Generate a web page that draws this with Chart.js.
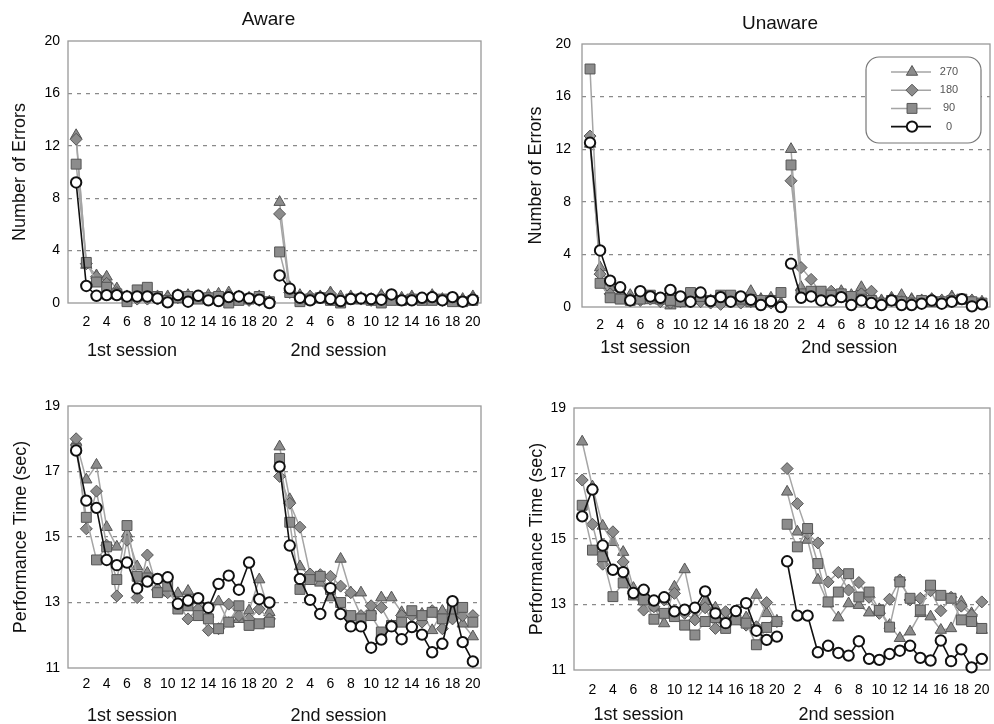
<!DOCTYPE html>
<html>
<head>
<meta charset="utf-8">
<script src="https://cdn.jsdelivr.net/npm/chart.js@4.4.0/dist/chart.umd.min.js"></script>
<style>
  body { margin: 0; background: #fff; width: 994px; height: 724px; position: relative; overflow: hidden; }
  canvas { position: absolute; }
</style>
</head>
<body>
<canvas id="aware-errors" width="497" height="362" style="left:0;top:0"></canvas>
<canvas id="unaware-errors" width="497" height="362" style="left:497px;top:0"></canvas>
<canvas id="aware-time" width="497" height="362" style="left:0;top:362px"></canvas>
<canvas id="unaware-time" width="497" height="362" style="left:497px;top:362px"></canvas>
<script>
// trial positions: 20 trials of the 1st session, then 20 of the 2nd
const trials = Array.from({ length: 40 }, (_, i) => i + 1);
const sessionNames = ['1st session', '2nd session'];
const angles = ['0', '90', '180', '270'];

// Number of errors, aware group (1st session then 2nd session)
const awareErrors270 = [12.8, 2.9, 2.1, 2.0, 1.1, 0.5, 0.4, 0.6, 0.5, 0.5, 0.6, 0.6, 0.5, 0.6, 0.7, 0.8, 0.5, 0.4, 0.5, 0.1,
                        7.7, 1.2, 0.6, 0.5, 0.5, 0.8, 0.5, 0.5, 0.4, 0.3, 0.6, 0.5, 0.4, 0.5, 0.3, 0.6, 0.3, 0.3, 0.3, 0.5];
const awareErrors180 = [12.5, 3.0, 2.0, 1.5, 0.8, 0.5, 0.3, 0.3, 0.3, 0.4, 0.4, 0.3, 0.4, 0.3, 0.4, 0.6, 0.3, 0.2, 0.2, 0.1,
                        6.8, 0.8, 0.4, 0.5, 0.4, 0.7, 0.3, 0.4, 0.3, 0.2, 0.5, 0.3, 0.3, 0.4, 0.3, 0.5, 0.2, 0.2, 0.2, 0.4];
const awareErrors90 = [10.6, 3.1, 1.6, 1.2, 0.7, 0.1, 1.0, 1.2, 0.5, 0.2, 0.4, 0.5, 0.3, 0.4, 0.5, 0.0, 0.2, 0.3, 0.5, 0.1,
                       3.9, 0.8, 0.1, 0.3, 0.4, 0.2, 0.0, 0.3, 0.3, 0.2, 0.0, 0.2, 0.2, 0.3, 0.2, 0.2, 0.3, 0.1, 0.1, 0.2];
const awareErrors0 = [9.2, 1.3, 0.55, 0.6, 0.6, 0.5, 0.5, 0.5, 0.35, 0.05, 0.6, 0.1, 0.55, 0.2, 0.15, 0.45, 0.5, 0.35, 0.25, 0.0,
                      2.1, 1.1, 0.4, 0.2, 0.4, 0.3, 0.15, 0.3, 0.35, 0.3, 0.25, 0.65, 0.2, 0.2, 0.4, 0.45, 0.2, 0.45, 0.1, 0.25];

// Number of errors, unaware group
const unawareErrors270 = [12.4, 3.0, 1.5, 1.0, 0.9, 0.7, 0.5, 0.6, 0.1, 0.3, 0.6, 0.5, 0.5, 0.8, 0.6, 0.4, 1.2, 0.6, 0.7, 0.3,
                          12.0, 1.5, 1.0, 0.8, 1.0, 1.2, 0.9, 1.5, 0.8, 0.5, 0.7, 0.9, 0.6, 0.5, 0.6, 0.5, 0.8, 0.5, 0.5, 0.4];
const unawareErrors180 = [13.0, 2.5, 1.0, 0.8, 0.6, 0.5, 0.6, 0.4, 0.3, 0.4, 0.5, 0.4, 0.3, 0.2, 0.5, 0.3, 0.4, 0.5, 0.3, 0.2,
                          9.6, 3.0, 2.1, 1.0, 1.2, 0.9, 0.6, 1.0, 1.2, 0.4, 0.6, 0.4, 0.5, 0.5, 0.6, 0.5, 0.7, 0.6, 0.5, 0.3];
const unawareErrors90 = [18.1, 1.8, 0.7, 0.6, 0.5, 0.6, 0.9, 0.6, 0.5, 0.4, 1.1, 0.8, 0.5, 0.9, 0.9, 0.6, 0.4, 0.5, 0.5, 1.1,
                         10.8, 1.0, 1.2, 1.2, 0.9, 1.0, 0.8, 0.6, 0.5, 0.3, 0.5, 0.4, 0.3, 0.5, 0.4, 0.4, 0.5, 0.6, 0.4, 0.3];
const unawareErrors0 = [12.5, 4.3, 2.0, 1.5, 0.5, 1.2, 0.8, 0.7, 1.3, 0.8, 0.4, 1.1, 0.45, 0.75, 0.4, 0.8, 0.55, 0.15, 0.45, 0.0,
                        3.3, 0.7, 0.8, 0.5, 0.5, 0.75, 0.15, 0.5, 0.3, 0.15, 0.5, 0.15, 0.15, 0.25, 0.5, 0.25, 0.4, 0.6, 0.05, 0.2];

// Performance time (sec), aware group
const awareTime270 = [17.9, 16.75, 17.2, 15.3, 14.7, 15.1, 14.1, 13.9, 13.45, 13.3, 13.28, 13.35, 13.06, 12.65, 13.03, 12.37, 12.49, 12.75, 13.7, 12.7,
                      17.76, 16.15, 14.1, 13.8, 13.6, 13.15, 14.33, 13.3, 13.3, 12.75, 13.15, 13.15, 12.7, 12.65, 12.65, 12.15, 12.74, 12.85, 12.35, 11.96];
const awareTime180 = [18.0, 15.25, 16.4, 14.75, 13.2, 14.9, 13.15, 14.45, 13.4, 13.3, 13.0, 12.5, 12.8, 12.15, 12.2, 12.95, 12.6, 12.5, 12.8, 12.5,
                      16.85, 16.03, 15.3, 13.87, 13.85, 13.8, 13.5, 13.3, 12.6, 12.9, 12.85, 12.3, 12.6, 12.6, 12.4, 12.75, 12.2, 12.5, 12.6, 12.6];
const awareTime90 = [17.7, 15.6, 14.3, 14.7, 13.7, 15.35, 13.8, 13.75, 13.3, 13.5, 12.8, 12.9, 12.6, 12.5, 12.2, 12.4, 12.9, 12.3, 12.35, 12.4,
                     17.4, 15.45, 13.4, 13.7, 13.8, 13.4, 13.0, 12.6, 12.5, 12.6, 12.1, 12.3, 12.4, 12.75, 12.6, 12.7, 12.5, 12.8, 12.85, 12.4];
const awareTime0 = [17.64, 16.11, 15.89, 14.3, 14.14, 14.22, 13.43, 13.64, 13.72, 13.77, 12.96, 13.06, 13.13, 12.84, 13.57, 13.82, 13.39, 14.22, 13.1, 13.0,
                    17.15, 14.74, 13.72, 13.08, 12.65, 13.44, 12.65, 12.27, 12.27, 11.62, 11.87, 12.27, 11.88, 12.25, 12.02, 11.48, 11.74, 13.04, 11.79, 11.2];

// Performance time (sec), unaware group
const unawareTime270 = [17.97, 16.6, 15.4, 14.9, 14.6, 13.5, 13.1, 12.9, 12.42, 13.54, 14.07, 12.6, 13.1, 12.9, 12.6, 12.6, 12.6, 13.29, 12.73, 12.5,
                        16.44, 15.22, 14.97, 13.75, 13.03, 12.6, 13.03, 12.98, 12.75, 12.85, 12.37, 11.97, 12.17, 12.73, 12.63, 12.22, 12.27, 13.08, 12.73, 12.22];
const unawareTime180 = [16.8, 15.45, 14.23, 15.22, 14.3, 13.34, 12.83, 12.93, 13.14, 13.34, 12.73, 12.53, 12.9, 12.27, 12.78, 12.58, 12.37, 12.32, 13.06, 12.48,
                        17.15, 16.08, 15.17, 14.88, 13.69, 13.98, 13.44, 13.67, 13.22, 12.73, 13.16, 13.75, 13.14, 13.19, 13.42, 12.81, 13.22, 12.95, 12.68, 13.08];
const unawareTime90 = [16.03, 14.66, 14.46, 13.24, 13.66, 13.29, 13.14, 12.55, 12.73, 12.63, 12.37, 12.07, 12.48, 12.6, 12.27, 12.53, 12.43, 11.77, 12.3, 12.48,
                       15.45, 14.76, 15.32, 14.25, 13.08, 13.38, 13.94, 13.23, 13.38, 12.82, 12.31, 13.69, 13.19, 12.83, 13.59, 13.28, 13.19, 12.53, 12.48, 12.27];
const unawareTime0 = [15.69, 16.51, 14.8, 14.06, 13.99, 13.35, 13.45, 13.12, 13.22, 12.79, 12.84, 12.9, 13.4, 12.73, 12.43, 12.8, 13.04, 12.2, 11.92, 12.02,
                      14.32, 12.66, 12.66, 11.54, 11.74, 11.52, 11.44, 11.88, 11.34, 11.31, 11.49, 11.59, 11.74, 11.37, 11.29, 11.9, 11.27, 11.63, 11.08, 11.34];

const FONT = "'Liberation Sans', Arial, Helvetica, sans-serif";
Chart.defaults.font.family = FONT;
Chart.defaults.color = '#000';

// marker / line look of each rotation angle
const styles = {
  '270': { pointStyle: 'triangle', radius: 6.5, fill: '#8c8c8c', border: '#555', line: '#a5a5a5', lineWidth: 1.5, pointBorder: 1 },
  '180': { pointStyle: 'rectRot', radius: 6, fill: '#8c8c8c', border: '#555', line: '#a5a5a5', lineWidth: 1.5, pointBorder: 1 },
  '90':  { pointStyle: 'rect', radius: 7, fill: '#8c8c8c', border: '#555', line: '#a5a5a5', lineWidth: 1.5, pointBorder: 1 },
  '0':   { pointStyle: 'circle', radius: 5.2, fill: '#fff', border: '#111', line: '#111', lineWidth: 1.6, pointBorder: 2 }
};

const makeDataset = (angle, values) => {
  const s = styles[angle];
  return {
    label: angle,
    data: values,
    borderColor: s.line,
    borderWidth: s.lineWidth,
    pointStyle: s.pointStyle,
    pointRadius: s.radius,
    pointBackgroundColor: s.fill,
    pointBorderColor: s.border,
    pointBorderWidth: s.pointBorder,
    tension: 0,
    clip: false,
    // no line between the last trial of session 1 and the first of session 2
    segment: { borderColor: c => c.p0DataIndex === 19 ? 'rgba(0,0,0,0)' : undefined }
  };
};

// frame, panel title, session captions and the legend box
const figurePlugin = {
  id: 'figure',
  beforeDatasetsDraw(chart) {
    const { ctx, chartArea: a } = chart;
    ctx.save();
    ctx.strokeStyle = '#999';
    ctx.lineWidth = 1.3;
    ctx.strokeRect(a.left, a.top, a.right - a.left, a.bottom - a.top);
    ctx.restore();
  },
  afterDraw(chart, args, opts) {
    const { ctx, chartArea: a } = chart;
    const xs = chart.scales.x;
    ctx.save();
    ctx.fillStyle = '#111';
    ctx.textAlign = 'center';
    ctx.textBaseline = 'middle';
    if (opts.title) {
      ctx.font = `19px ${FONT}`;
      ctx.fillText(opts.title, (a.left + a.right) / 2 - 6, opts.titleY);
    }
    ctx.font = `18px ${FONT}`;
    sessionNames.forEach((name, i) => {
      ctx.fillText(name, xs.getPixelForValue(i === 0 ? 6.5 : 26.8), a.bottom + opts.sessionDy);
    });
    if (opts.legend) {
      const w = 115, h = 86;
      const left = a.right - 9 - w, top = a.top + 13;
      ctx.beginPath();
      ctx.roundRect(left, top, w, h, 13);
      ctx.fillStyle = '#fff';
      ctx.fill();
      ctx.strokeStyle = '#777';
      ctx.lineWidth = 1.2;
      ctx.stroke();
      ctx.font = `11px ${FONT}`;
      const order = [...chart.data.datasets].reverse();
      order.forEach((ds, i) => {
        const y = top + 15 + i * 18.2;
        ctx.beginPath();
        ctx.strokeStyle = ds.borderColor;
        ctx.lineWidth = ds.borderWidth;
        ctx.moveTo(left + 25, y);
        ctx.lineTo(left + 65, y);
        ctx.stroke();
        ctx.fillStyle = ds.pointBackgroundColor;
        ctx.strokeStyle = ds.pointBorderColor;
        ctx.lineWidth = ds.pointBorderWidth;
        Chart.helpers.drawPoint(ctx, { pointStyle: ds.pointStyle, radius: ds.pointRadius, rotation: 0, borderWidth: ds.pointBorderWidth }, left + 46, y);
        ctx.fillStyle = '#555';
        ctx.fillText(ds.label, left + 83, y);
      });
    }
    ctx.restore();
  }
};

const makeChart = (id, cfg) => new Chart(document.getElementById(id), {
  type: 'line',
  data: {
    labels: trials,
    datasets: angles.map(a => makeDataset(a, cfg.values[a]))
  },
  options: {
    responsive: false,
    animation: false,
    devicePixelRatio: 1,
    layout: { autoPadding: false, padding: cfg.padding },
    plugins: {
      legend: { display: false },
      tooltip: { enabled: false },
      figure: { title: cfg.title, titleY: cfg.titleY, sessionDy: cfg.sessionDy, legend: cfg.legend }
    },
    scales: {
      x: {
        type: 'linear',
        min: 0.2,
        max: 40.8,
        afterBuildTicks: s => { s.ticks = trials.filter(t => t % 2 === 0).map(v => ({ value: v })); },
        afterFit: s => { s.height = cfg.xHeight; },
        ticks: { autoSkip: false, maxRotation: 0, padding: cfg.xPad, font: { size: 14 }, color: '#000',
                 callback: v => (v > 20 ? v - 20 : v) },
        grid: { display: false },
        border: { display: false }
      },
      y: {
        min: cfg.yMin,
        max: cfg.yMax,
        afterFit: s => { s.width = cfg.yWidth; },
        ticks: { stepSize: cfg.yStep, padding: cfg.yPad, font: { size: 14 }, color: '#000' },
        grid: {
          drawTicks: false,
          lineWidth: 1.3,
          color: c => (c.tick && c.tick.value > cfg.yMin && c.tick.value < cfg.yMax) ? '#8a8a8a' : 'rgba(0,0,0,0)'
        },
        border: { display: false, dash: [4, 5] },
        title: { display: true, text: cfg.yTitle, font: { size: 18 }, color: '#111', padding: 4 }
      }
    }
  },
  plugins: [figurePlugin]
});

makeChart('aware-errors', {
  title: 'Aware', titleY: 20, sessionDy: 48, legend: false,
  values: { '0': awareErrors0, '90': awareErrors90, '180': awareErrors180, '270': awareErrors270 },
  padding: { left: 5, right: 16, top: 41, bottom: 0 },
  yWidth: 63, yPad: 8, xHeight: 59, xPad: 3,
  yMin: 0, yMax: 20, yStep: 4, yTitle: 'Number of Errors'
});

makeChart('unaware-errors', {
  title: 'Unaware', titleY: 24, sessionDy: 41, legend: true,
  values: { '0': unawareErrors0, '90': unawareErrors90, '180': unawareErrors180, '270': unawareErrors270 },
  padding: { left: 24, right: 4, top: 44, bottom: 0 },
  yWidth: 61, yPad: 11, xHeight: 55, xPad: 2,
  yMin: 0, yMax: 20, yStep: 4, yTitle: 'Number of Errors'
});

makeChart('aware-time', {
  title: '', titleY: 0, sessionDy: 48, legend: false,
  values: { '0': awareTime0, '90': awareTime90, '180': awareTime180, '270': awareTime270 },
  padding: { left: 6, right: 16, top: 44, bottom: 0 },
  yWidth: 62, yPad: 8, xHeight: 56, xPad: 0,
  yMin: 11, yMax: 19, yStep: 2, yTitle: 'Performance Time (sec)'
});

makeChart('unaware-time', {
  title: '', titleY: 0, sessionDy: 45, legend: false,
  values: { '0': unawareTime0, '90': unawareTime90, '180': unawareTime180, '270': unawareTime270 },
  padding: { left: 25, right: 4, top: 46, bottom: 0 },
  yWidth: 52, yPad: 8, xHeight: 54, xPad: 4,
  yMin: 11, yMax: 19, yStep: 2, yTitle: 'Performance Time (sec)'
});
</script>
</body>
</html>
